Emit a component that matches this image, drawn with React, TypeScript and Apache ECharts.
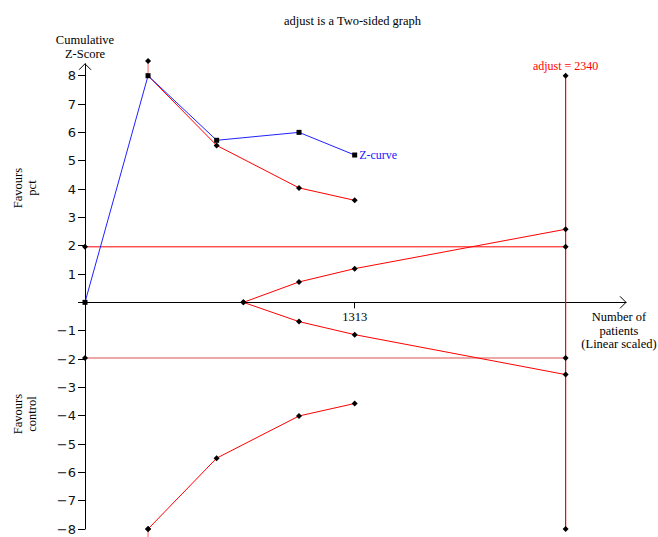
import React, { useEffect, useRef } from 'react';
import * as echarts from 'echarts';

const chartTitle = 'adjust is a Two-sided graph';
const xAxisMax = 2634;
const yAxisMin = -8;
const yAxisMax = 8.42;
const yTickLabels = [-8, -7, -6, -5, -4, -3, -2, -1, 1, 2, 3, 4, 5, 6, 7, 8];
const yTicks = [-8, -7, -6, -5, -4, -3, -2, -1, 0, 1, 2, 3, 4, 5, 6, 7, 8];
const xTickValues = [1313];

const zCurveX = [0, 307, 641, 1042, 1313];
const zCurveY = [0, 8.0, 5.72, 6.0, 5.2];

const upperCapX = [307, 307];
const upperCapY = [8.52, 8.0];
const upperBoundaryX = [307, 641, 1042, 1313];
const upperBoundaryY = [8.0, 5.54, 4.04, 3.6];

const lowerCapX = [307, 307];
const lowerCapY = [-8.0, -8.6];
const lowerBoundaryX = [307, 641, 1042, 1313];
const lowerBoundaryY = [-8.0, -5.5, -4.01, -3.57];

const innerX = [771, 1042, 1313, 2340];
const innerUpperY = [0, 0.72, 1.19, 2.58];
const innerLowerY = [0, -0.68, -1.14, -2.55];

const conventionalX = [0, 2340];
const conventionalUpperY = [1.96, 1.96];
const conventionalLowerY = [-1.96, -1.96];

const adjustSize = 2340;
const adjustY = [8, -8];

const zip = (xs: number[], ys: number[]) => xs.map((x, i) => [x, ys[i]]);

const RED = '#ff0000';
const PINK = '#e68a8a';
const BLUE = '#2020ff';
const SERIF = '"Liberation Serif", "Times New Roman", serif';

const GRID_TOP = 63.8;
const GRID_BOTTOM = 8;
const GRID_HEIGHT = 537 - GRID_TOP - GRID_BOTTOM;
// x axis drawn at y = 0: offset upward from grid bottom
const X_AXIS_OFFSET = -GRID_HEIGHT * ((0 - yAxisMin) / (yAxisMax - yAxisMin));

export default function App() {
  const ref = useRef<HTMLDivElement>(null);
  useEffect(() => {
    if (!ref.current) return;
    const chart = echarts.init(ref.current, undefined, { renderer: 'svg' });
    const diamond = { symbol: 'diamond', symbolSize: 6, itemStyle: { color: '#000' } };
    const option: any = {
      animation: false,
      title: {
        text: chartTitle,
        left: 279,
        top: 9,
        textStyle: { fontFamily: SERIF, fontSize: 12.5, fontWeight: 'normal', color: '#000' },
      },
      grid: {
        left: 85,
        right: 32,
        top: GRID_TOP,
        bottom: GRID_BOTTOM,
        containLabel: false,
        outerBoundsMode: 'none',
      },
      xAxis: {
        type: 'value',
        min: 0,
        max: xAxisMax,
        offset: X_AXIS_OFFSET,
        splitLine: { show: false },
        axisLine: { onZero: false, lineStyle: { color: '#000', width: 1 } },
        axisTick: { show: true, length: 6, customValues: xTickValues, lineStyle: { color: '#000' } },
        axisLabel: {
          show: true,
          customValues: xTickValues,
          margin: 8,
          fontFamily: SERIF,
          fontSize: 12.5,
          color: '#000',
          formatter: (v: number) => String(v),
        },
      },
      yAxis: {
        type: 'value',
        min: yAxisMin,
        max: yAxisMax,
        splitLine: { show: false },
        axisLine: { show: true, onZero: false, lineStyle: { color: '#000', width: 1 } },
        axisTick: { show: true, length: 7, customValues: yTicks, lineStyle: { color: '#000' } },
        axisLabel: {
          show: true,
          customValues: yTickLabels,
          margin: 9,
          fontFamily: '"DejaVu Sans", Verdana, sans-serif',
          fontSize: 13,
          color: '#111',
          formatter: (v: number) => String(v).replace('-', '\u2212'),
        },
      },
      series: [
        {
          type: 'line',
          data: zip(conventionalX, conventionalUpperY),
          ...diamond,
          clip: false,
          lineStyle: { color: RED, width: 1 },
        },
        {
          type: 'line',
          data: zip(conventionalX, conventionalLowerY),
          ...diamond,
          clip: false,
          lineStyle: { color: PINK, width: 1.5 },
        },
        {
          type: 'line',
          data: zip(innerX, innerUpperY),
          ...diamond,
          clip: false,
          lineStyle: { color: RED, width: 1 },
        },
        {
          type: 'line',
          data: zip(innerX, innerLowerY),
          ...diamond,
          clip: false,
          lineStyle: { color: RED, width: 1 },
        },
        {
          type: 'line',
          data: zip(upperCapX, upperCapY).map((p, i) => ({ value: p, symbolSize: i === 0 ? 6 : 0 })),
          ...diamond,
          clip: false,
          lineStyle: { color: '#ff6060', width: 1 },
        },
        {
          type: 'line',
          data: zip(upperBoundaryX, upperBoundaryY).map((p, i) => ({ value: p, symbolSize: i === 0 ? 0 : 6 })),
          ...diamond,
          clip: false,
          lineStyle: { color: RED, width: 1 },
        },
        {
          type: 'line',
          data: zip(lowerCapX, lowerCapY).map((p, i) => ({ value: p, symbolSize: i === 0 ? 6 : 0 })),
          ...diamond,
          clip: false,
          lineStyle: { color: '#ff6060', width: 1 },
        },
        {
          type: 'line',
          data: zip(lowerBoundaryX, lowerBoundaryY),
          ...diamond,
          clip: false,
          lineStyle: { color: RED, width: 1 },
        },
        {
          type: 'line',
          data: adjustY.map((y, i) => ({
            value: [adjustSize, y],
            label:
              i === 0
                ? {
                    show: true,
                    position: 'top',
                    distance: 1,
                    formatter: `adjust = ${adjustSize}`,
                    color: RED,
                    fontFamily: SERIF,
                    fontSize: 12,
                  }
                : { show: false },
          })),
          ...diamond,
          clip: false,
          lineStyle: { color: RED, width: 1.2 },
        },
        {
          type: 'line',
          data: zip(zCurveX, zCurveY).map((p, i) => ({
            value: p,
            label:
              i === zCurveX.length - 1
                ? {
                    show: true,
                    position: 'right',
                    distance: 2,
                    formatter: 'Z-curve',
                    color: BLUE,
                    fontFamily: SERIF,
                    fontSize: 12,
                  }
                : { show: false },
          })),
          symbol: 'rect',
          symbolSize: 5,
          itemStyle: { color: '#000' },
          clip: false,
          z: 5,
          lineStyle: { color: BLUE, width: 1 },
        },
      ],
    };
    chart.setOption(option);

    const xEnd = chart.convertToPixel({ gridIndex: 0 }, [xAxisMax, 0]) as number[];
    const yEnd = chart.convertToPixel({ gridIndex: 0 }, [0, yAxisMax]) as number[];
    const txt = (x: number, y: number, text: string, extra: any = {}) => ({
      type: 'text',
      x,
      y,
      style: {
        text,
        fontFamily: SERIF,
        fontSize: 12.5,
        fill: '#000',
        align: 'center',
        verticalAlign: 'middle',
        lineHeight: 13.5,
        ...extra,
      },
    });
    chart.setOption({
      graphic: [
        {
          type: 'polyline',
          shape: { points: [[xEnd[0] - 6, xEnd[1] - 6], [xEnd[0], xEnd[1]], [xEnd[0] - 6, xEnd[1] + 6]] },
          style: { stroke: '#000', lineWidth: 1, fill: 'none' },
        },
        {
          type: 'polyline',
          shape: { points: [[yEnd[0] - 6, yEnd[1] + 6], [yEnd[0], yEnd[1]], [yEnd[0] + 6, yEnd[1] + 6]] },
          style: { stroke: '#000', lineWidth: 1, fill: 'none' },
        },
        txt(85, 47, 'Cumulative\nZ-Score'),
        { ...txt(0, 0, 'Favours\npct', { lineHeight: 14 }), x: 25, y: 188, rotation: Math.PI / 2 },
        { ...txt(0, 0, 'Favours\ncontrol', { lineHeight: 14 }), x: 25, y: 414, rotation: Math.PI / 2 },
        txt(619, 330.5, 'Number of\npatients\n(Linear scaled)'),
      ],
    });
    return () => chart.dispose();
  }, []);
  return <div ref={ref} style={{ position: 'absolute', left: 0, top: 0, width: 658, height: 537 }} />;
}
